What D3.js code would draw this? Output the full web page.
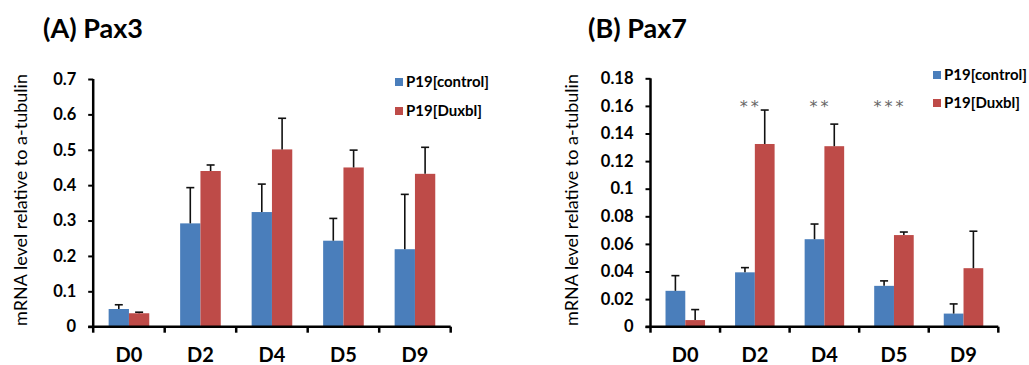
<!DOCTYPE html>
<html>
<head>
<meta charset="utf-8">
<script src="https://cdn.jsdelivr.net/npm/d3@7"></script>
<style>
  body { margin: 0; background: #fff; }
  svg { display: block; font-family: Lato, "Open Sans", sans-serif; }
</style>
</head>
<body>
<div id="chart"></div>
<script>
// Shared categories / series
const categories = ['D0', 'D2', 'D4', 'D5', 'D9'];
const seriesNames = ['P19[control]', 'P19[Duxbl]'];
const seriesColors = ['#4a7ebb', '#be4b48'];

// (A) Pax3
const pax3Control = [0.050, 0.292, 0.324, 0.243, 0.219];
const pax3ControlErr = [0.012, 0.101, 0.079, 0.063, 0.155];
const pax3Duxbl = [0.038, 0.440, 0.501, 0.450, 0.432];
const pax3DuxblErr = [0.003, 0.017, 0.088, 0.049, 0.075];
const pax3Ticks = [0, 0.1, 0.2, 0.3, 0.4, 0.5, 0.6, 0.7];

// (B) Pax7
const pax7Control = [0.026, 0.0394, 0.0634, 0.0296, 0.0095];
const pax7ControlErr = [0.011, 0.0034, 0.011, 0.0036, 0.007];
const pax7Duxbl = [0.0048, 0.1324, 0.1308, 0.0664, 0.0424];
const pax7DuxblErr = [0.0076, 0.0246, 0.016, 0.0022, 0.0268];
const pax7Ticks = [0, 0.02, 0.04, 0.06, 0.08, 0.1, 0.12, 0.14, 0.16, 0.18];
const pax7Stars = ['', '**', '**', '***', ''];

const yLabel = 'mRNA level relative to a-tubulin';

const svg = d3.select('#chart')
  .append('svg')
  .attr('width', 1029)
  .attr('height', 365);

function drawPanel(cfg) {
  const g = svg.append('g');

  // Scales
  const x = d3.scaleBand().domain(categories).range(cfg.xRange).padding(0);
  const xSub = d3.scaleBand().domain([0, 1]).range([0, x.bandwidth()])
    .paddingInner(0).paddingOuter(0.76);
  const y = d3.scaleLinear().domain(cfg.yDomain).range(cfg.yRange);

  const rows = categories.map((c, i) => ({
    cat: c,
    vals: [cfg.control[i], cfg.duxbl[i]],
    errs: [cfg.controlErr[i], cfg.duxblErr[i]],
    star: cfg.stars ? cfg.stars[i] : ''
  }));

  // Bars
  const groups = g.selectAll('g.cat')
    .data(rows)
    .join('g')
    .attr('class', 'cat')
    .attr('transform', d => `translate(${x(d.cat)},0)`);

  groups.selectAll('rect')
    .data(d => d.vals.map((v, k) => ({ v, k })))
    .join('rect')
    .attr('x', d => xSub(d.k))
    .attr('width', xSub.bandwidth())
    .attr('y', d => y(d.v))
    .attr('height', d => y(0) - y(d.v))
    .attr('fill', d => seriesColors[d.k]);

  // Error bars (upper only)
  const errs = groups.selectAll('g.err')
    .data(d => d.vals.map((v, k) => ({ v, e: d.errs[k], k })))
    .join('g')
    .attr('class', 'err')
    .attr('stroke', '#111')
    .attr('stroke-width', 1.6);

  errs.append('line')
    .attr('x1', d => xSub(d.k) + xSub.bandwidth() / 2)
    .attr('x2', d => xSub(d.k) + xSub.bandwidth() / 2)
    .attr('y1', d => y(d.v))
    .attr('y2', d => y(d.v + d.e));

  errs.append('line')
    .attr('x1', d => xSub(d.k) + xSub.bandwidth() / 2 - 4)
    .attr('x2', d => xSub(d.k) + xSub.bandwidth() / 2 + 4)
    .attr('y1', d => y(d.v + d.e))
    .attr('y2', d => y(d.v + d.e));

  // Significance stars
  groups.append('text')
    .attr('x', x.bandwidth() / 2 - 4)
    .attr('y', y(cfg.starLevel || 0) + 6)
    .attr('text-anchor', 'middle')
    .attr('fill', '#666')
    .attr('font-family', '"DejaVu Sans", sans-serif')
    .attr('font-size', 16)
    .attr('letter-spacing', 3)
    .text(d => d.star);

  // Y axis
  const yAxis = g.append('g')
    .attr('transform', `translate(${cfg.xRange[0]},0)`)
    .call(d3.axisLeft(y).tickValues(cfg.ticks).tickSize(5).tickPadding(12)
      .tickFormat(d3.format('')));
  yAxis.select('.domain').attr('stroke', '#000').attr('stroke-width', 2.5)
    .attr('d', `M0,${cfg.yRange[0]}V${cfg.yRange[1]}`);
  yAxis.selectAll('.tick line').attr('stroke', '#000').attr('stroke-width', 2);
  yAxis.selectAll('.tick text')
    .attr('font-size', 16.5)
    .attr('font-weight', 'bold')
    .attr('fill', '#000')
    .attr('font-family', 'Lato, sans-serif');

  // X axis: ticks at category boundaries
  const xAxis = g.append('g')
    .attr('transform', `translate(0,${cfg.yRange[0]})`);
  xAxis.append('line')
    .attr('x1', cfg.xRange[0] - 5)
    .attr('x2', cfg.xRange[1])
    .attr('stroke', '#000')
    .attr('stroke-width', 2.5);
  xAxis.selectAll('line.bound')
    .data(categories.map(c => x(c)).concat([cfg.xRange[1]]))
    .join('line')
    .attr('class', 'bound')
    .attr('x1', d => d).attr('x2', d => d)
    .attr('y1', 0).attr('y2', 6)
    .attr('stroke', '#000')
    .attr('stroke-width', 2.5);
  xAxis.selectAll('text')
    .data(categories)
    .join('text')
    .attr('x', d => x(d) + x.bandwidth() / 2)
    .attr('y', 35.5)
    .attr('text-anchor', 'middle')
    .attr('font-size', 20)
    .attr('font-weight', 'bold')
    .text(d => d);

  // Y axis title
  g.append('text')
    .attr('transform', `translate(${cfg.yTitleX},200) rotate(-90)`)
    .attr('text-anchor', 'middle')
    .attr('dy', '0.35em')
    .attr('font-size', 18)
    .text(yLabel);

  // Panel title
  g.append('text')
    .attr('x', cfg.titleX)
    .attr('y', 38)
    .attr('font-size', 27)
    .attr('font-weight', 'bold')
    .text(cfg.title);

  // Legend
  const legend = g.selectAll('g.legend')
    .data(seriesNames)
    .join('g')
    .attr('class', 'legend')
    .attr('transform', (d, i) => `translate(${cfg.legendX},${cfg.legendY + i * cfg.legendGap})`);
  legend.append('rect')
    .attr('x', 0).attr('y', -4)
    .attr('width', 8).attr('height', 8)
    .attr('fill', (d, i) => seriesColors[i]);
  legend.append('text')
    .attr('x', 11)
    .attr('dy', '0.36em')
    .attr('font-size', 15)
    .attr('font-weight', 'bold')
    .text(d => d);
}

drawPanel({
  title: '(A) Pax3',
  titleX: 43,
  control: pax3Control, controlErr: pax3ControlErr,
  duxbl: pax3Duxbl, duxblErr: pax3DuxblErr,
  ticks: pax3Ticks,
  yDomain: [0, 0.7],
  xRange: [93.2, 450.7],
  yRange: [326.7, 79],
  yTitleX: 21,
  legendX: 395, legendY: 82, legendGap: 29
});

drawPanel({
  title: '(B) Pax7',
  titleX: 588,
  control: pax7Control, controlErr: pax7ControlErr,
  duxbl: pax7Duxbl, duxblErr: pax7DuxblErr,
  ticks: pax7Ticks,
  stars: pax7Stars, starLevel: 0.16,
  yDomain: [0, 0.18],
  xRange: [650.5, 998.3],
  yRange: [326.7, 78.3],
  yTitleX: 572,
  legendX: 933, legendY: 75, legendGap: 28
});
</script>
</body>
</html>
